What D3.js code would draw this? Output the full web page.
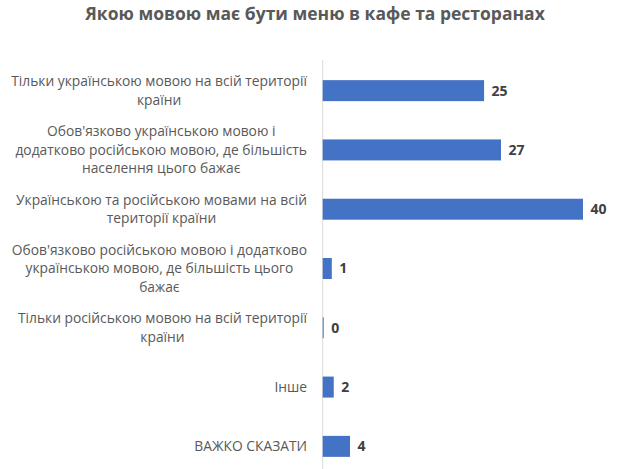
<!DOCTYPE html>
<html>
<head>
<meta charset="utf-8">
<script src="https://cdn.jsdelivr.net/npm/d3@7"></script>
<style>
body { margin: 0; background: #fff; }
text { font-family: "Open Sans", sans-serif; }
</style>
</head>
<body>
<svg id="chart" width="620" height="469"></svg>
<script>
var title = "Якою мовою має бути меню в кафе та ресторанах";

// each category is split into the lines it wraps to
var categories = [
  ["Тільки українською мовою на всій території", "країни"],
  ["Обов'язково українською мовою і", "додатково російською мовою, де більшість", "населення цього бажає"],
  ["Українською та російською мовами на всій", "території країни"],
  ["Обов'язково російською мовою і додатково", "українською мовою, де більшість цього", "бажає"],
  ["Тільки російською мовою на всій території", "країни"],
  ["Інше"],
  ["ВАЖКО СКАЗАТИ"]
];
var values = [24.8, 27.4, 40, 1.4, 0.15, 1.7, 4.2];
var valueLabels = ["25", "27", "40", "1", "0", "2", "4"];

var svg = d3.select("#chart");

var x = d3.scaleLinear().domain([0, 40]).range([322.7, 583]);
var y = d3.scaleBand()
    .domain(d3.range(categories.length))
    .range([61, 476])
    .paddingInner(0.646)
    .paddingOuter(0.323);

var half = y.bandwidth() / 2;

svg.append("text")
    .attr("x", 315)
    .attr("y", 20)
    .attr("text-anchor", "middle")
    .style("font-size", "17.5px")
    .style("font-weight", "bold")
    .style("fill", "#595959")
    .text(title);

svg.append("line")
    .attr("x1", x(0)).attr("x2", x(0))
    .attr("y1", 60).attr("y2", 469)
    .style("stroke", "#d9d9d9")
    .style("stroke-width", "1px");

svg.selectAll(".bar")
  .data(values)
  .enter().append("rect")
    .attr("class", "bar")
    .attr("x", x(0))
    .attr("y", function(d, i) { return y(i); })
    .attr("width", function(d) { return x(d) - x(0); })
    .attr("height", y.bandwidth())
    .attr("fill", "#4472c4");

svg.selectAll(".value_text")
  .data(values)
  .enter().append("text")
    .attr("class", "value_text")
    .attr("x", function(d) { return x(d) + 7.5; })
    .attr("y", function(d, i) { return y(i) + half; })
    .attr("dy", "0.35em")
    .style("font-size", "14px")
    .style("font-weight", "bold")
    .style("fill", "#404040")
    .text(function(d, i) { return valueLabels[i]; });

// category labels: block right edge fixed, lines centred inside the block
var labelRight = 307, lineH = 18.3;
var groups = svg.selectAll(".cat")
  .data(categories)
  .enter().append("g")
    .attr("class", "cat");

groups.each(function(lines, i) {
  var g = d3.select(this);
  var cy = y(i) + half;
  var t = g.selectAll("text")
    .data(lines)
    .enter().append("text")
      .attr("y", function(d, j) { return cy + (j - (lines.length - 1) / 2) * lineH; })
      .attr("dy", "0.35em")
      .attr("text-anchor", "middle")
      .style("font-size", "13.8px")
      .style("fill", "#595959")
      .text(function(d) { return d; });
  var w = 0;
  t.each(function() { w = Math.max(w, this.getComputedTextLength()); });
  t.attr("x", labelRight - w / 2);
});
</script>
</body>
</html>
